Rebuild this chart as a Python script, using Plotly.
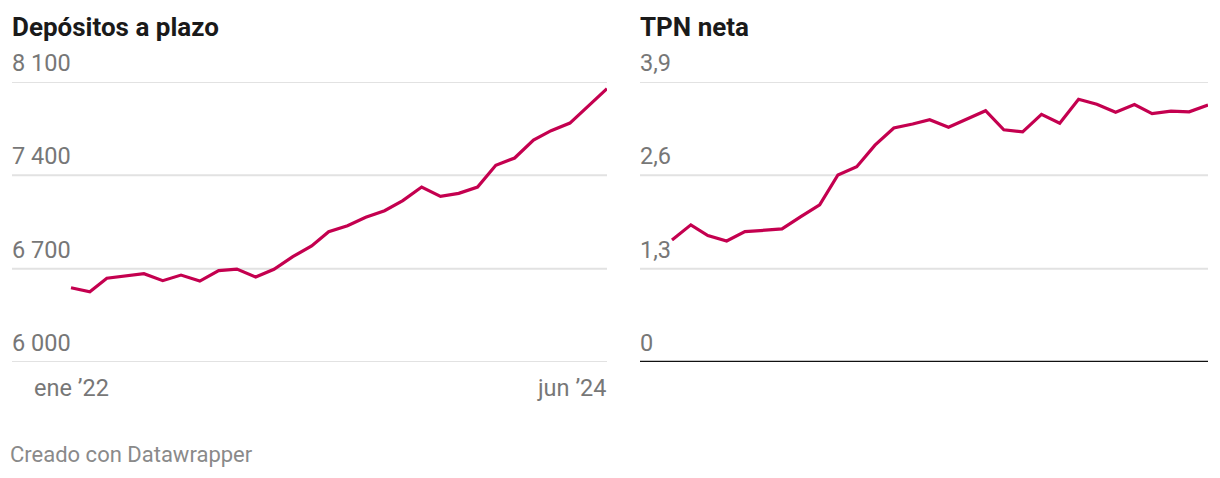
import pandas as pd
import plotly.graph_objects as go

# ---------------- data ----------------
months = pd.date_range("2022-01-01", "2024-06-01", freq="MS")

depositos = [6557, 6527, 6628, 6645, 6662, 6610, 6652, 6607, 6685, 6697,
             6637, 6695, 6790, 6870, 6977, 7022, 7085, 7135, 7210, 7312,
             7242, 7265, 7312, 7475, 7530, 7665, 7735, 7792, 7922, 8050]

tpn_neta = [1.70, 1.91, 1.76, 1.685, 1.815, 1.834, 1.853, 2.024, 2.19, 2.605,
            2.72, 3.02, 3.26, 3.315, 3.375, 3.27, 3.385, 3.50, 3.235, 3.205,
            3.45, 3.325, 3.66, 3.59, 3.48, 3.585, 3.46, 3.495, 3.485, 3.58]

left_ticks = [6000, 6700, 7400, 8100]
left_tick_text = ["6 000", "6 700", "7 400", "8 100"]
right_ticks = [0, 1.3, 2.6, 3.9]
right_tick_text = ["0", "1,3", "2,6", "3,9"]
x_labels = ["ene \u201922", "jun \u201924"]
titles = ["Depósitos a plazo", "TPN neta"]
footer = "Creado con Datawrapper"

# ---------------- style ----------------
W, H = 1220, 478
LINE = "#c4004f"
GRID = "#e2e2e2"
LABEL = "#777777"
FONT = "Roboto"
LSIZE = 23.5


def px(xp):
    return xp / W


def py(yp):
    return 1 - yp / H


span_days = (months[-1] - months[0]).days
days_per_px = span_days / 536.0
left_start = months[0] - pd.Timedelta(days=59 * days_per_px)
right_start = months[0] - pd.Timedelta(days=32 * days_per_px)

fig = go.Figure()
fig.add_trace(go.Scatter(x=months, y=depositos, mode="lines",
                         line=dict(color=LINE, width=3.2),
                         xaxis="x", yaxis="y", hoverinfo="skip"))
fig.add_trace(go.Scatter(x=months, y=tpn_neta, mode="lines",
                         line=dict(color=LINE, width=3.2),
                         xaxis="x2", yaxis="y2", hoverinfo="skip"))

ydom = [py(362), py(82)]
axis_common = dict(showgrid=False, zeroline=False, showticklabels=False,
                   showline=False, ticks="", fixedrange=True)
fig.update_layout(
    width=W, height=H,
    margin=dict(l=0, r=0, t=0, b=0),
    paper_bgcolor="white", plot_bgcolor="white",
    showlegend=False,
    xaxis=dict(domain=[px(12), px(607)], range=[left_start, months[-1]], **axis_common),
    yaxis=dict(domain=ydom, range=[left_ticks[0], left_ticks[-1]], **axis_common),
    xaxis2=dict(domain=[px(640), px(1208)], range=[right_start, months[-1]],
                anchor="y2", **axis_common),
    yaxis2=dict(domain=ydom, range=[right_ticks[0], right_ticks[-1]],
                anchor="x2", **axis_common),
)

shapes = []
annotations = []
for v, t in zip(left_ticks, left_tick_text):
    shapes.append(dict(type="line", xref="x domain", yref="y", x0=0, x1=1,
                       y0=v, y1=v, line=dict(color=GRID, width=2), layer="below"))
    annotations.append(dict(text=t, xref="x domain", yref="y", x=0, y=v,
                            xanchor="left", yanchor="bottom", yshift=3, xshift=-2,
                            showarrow=False,
                            font=dict(family=FONT, size=LSIZE, color=LABEL)))
for v, t in zip(right_ticks, right_tick_text):
    is_zero = v == 0
    shapes.append(dict(type="line", xref="x2 domain", yref="y2", x0=0, x1=1,
                       y0=v, y1=v,
                       line=dict(color="#111111" if is_zero else GRID,
                                 width=2.5 if is_zero else 2),
                       layer="below" if not is_zero else "above"))
    annotations.append(dict(text=t, xref="x2 domain", yref="y2", x=0, y=v,
                            xanchor="left", yanchor="bottom", yshift=3, xshift=-2,
                            showarrow=False,
                            font=dict(family=FONT, size=LSIZE, color=LABEL)))

# x labels
annotations.append(dict(text=x_labels[0], xref="x", yref="paper", x=months[0],
                        y=py(372), xanchor="center", yanchor="top", showarrow=False,
                        font=dict(family=FONT, size=LSIZE, color=LABEL)))
annotations.append(dict(text=x_labels[1], xref="x", yref="paper", x=months[-1],
                        y=py(372), xanchor="right", yanchor="top", showarrow=False,
                        xshift=2,
                        font=dict(family=FONT, size=LSIZE, color=LABEL)))

# titles
annotations.append(dict(text="<b>" + titles[0] + "</b>", xref="paper", yref="paper",
                        x=px(10), y=py(10), xanchor="left", yanchor="top",
                        showarrow=False,
                        font=dict(family=FONT, size=26, color="#1a1a1a")))
annotations.append(dict(text="<b>" + titles[1] + "</b>", xref="paper", yref="paper",
                        x=px(638), y=py(10), xanchor="left", yanchor="top",
                        showarrow=False,
                        font=dict(family=FONT, size=26, color="#1a1a1a")))
# footer
annotations.append(dict(text=footer, xref="paper", yref="paper",
                        x=px(8), y=py(440), xanchor="left", yanchor="top",
                        showarrow=False,
                        font=dict(family=FONT, size=22, color="#8a8a8a")))

fig.update_layout(shapes=shapes, annotations=annotations)
fig.write_html("out.html", config={"displayModeBar": False},
               post_script="document.body.style.margin='0';document.body.style.padding='0';")
